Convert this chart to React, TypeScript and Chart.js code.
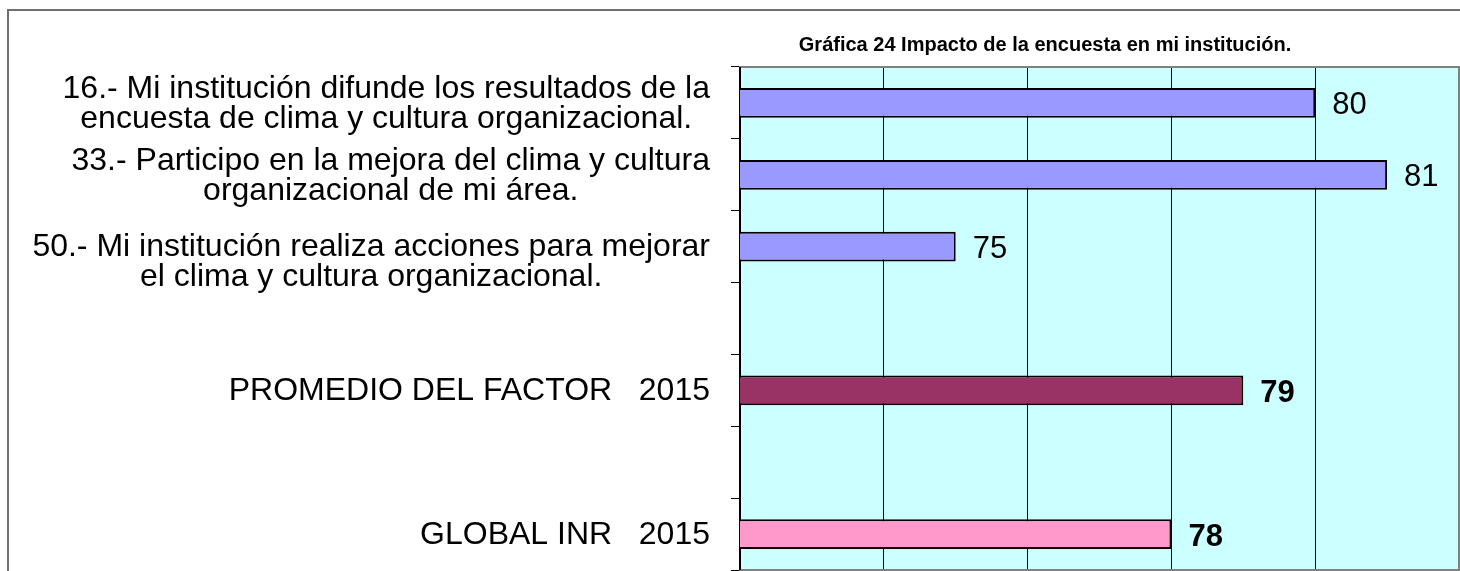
import React, { useEffect, useRef } from "react";
import { Chart, registerables } from "chart.js";

Chart.register(...registerables);

// ---- data ----
const categories: string[][] = [
  ["16.- Mi institución difunde los resultados de la", "encuesta de clima y cultura organizacional."],
  ["33.- Participo en la mejora del clima y cultura", "organizacional de mi área."],
  ["", "50.- Mi institución realiza acciones para mejorar", "el clima y cultura organizacional."],
  [""],
  ["PROMEDIO DEL FACTOR   2015"],
  [""],
  ["GLOBAL INR   2015"],
];
const values: (number | null)[] = [80, 81, 75, null, 79, null, 78];
const barColors = ["#9999FF", "#9999FF", "#9999FF", "rgba(0,0,0,0)", "#993366", "rgba(0,0,0,0)", "#FF99CC"];
const boldValue = [false, false, false, false, true, false, true];
const xMin = 72;
const xMax = 82;
const xStep = 2;
const titleText = "Gráfica 24 Impacto de la encuesta en mi institución.";

const FONT = "'Liberation Sans', Arial, sans-serif";

const decorPlugin = {
  id: "decor",
  beforeDraw(chart: any) {
    const { ctx, chartArea: a } = chart;
    ctx.save();
    ctx.fillStyle = "#ffffff";
    ctx.fillRect(0, 0, chart.width, chart.height);
    // outer frame
    ctx.strokeStyle = "#6f6f6f";
    ctx.lineWidth = 2;
    ctx.beginPath();
    ctx.moveTo(8, chart.height + 2);
    ctx.lineTo(8, 10);
    ctx.lineTo(chart.width + 2, 10);
    ctx.stroke();
    // plot background
    ctx.fillStyle = "#CCFFFF";
    ctx.fillRect(a.left, a.top, a.right - a.left, a.bottom - a.top);
    // title
    ctx.fillStyle = "#000";
    ctx.font = `bold 20px ${FONT}`;
    ctx.textAlign = "center";
    ctx.textBaseline = "alphabetic";
    ctx.fillText(titleText, 1045, 51);
    ctx.restore();
  },
  beforeDatasetsDraw(chart: any) {
    const { ctx, chartArea: a } = chart;
    ctx.save();
    ctx.strokeStyle = "#808080";
    ctx.lineWidth = 2;
    ctx.strokeRect(a.left, a.top, a.right - a.left, a.bottom - a.top);
    ctx.strokeStyle = "#000";
    ctx.beginPath();
    ctx.moveTo(a.left, a.top);
    ctx.lineTo(a.left, a.bottom);
    ctx.stroke();
    // category labels: block right-aligned, lines centered within block
    const yScale = chart.scales.y;
    ctx.fillStyle = "#000";
    ctx.font = `32px ${FONT}`;
    ctx.textAlign = "center";
    ctx.textBaseline = "middle";
    const lineH = 30;
    categories.forEach((lines, i) => {
      const cy = yScale.getPixelForTick(i) + 1;
      const w = Math.max(...lines.map((l) => ctx.measureText(l).width));
      const cx = a.left - 30 - w / 2;
      lines.forEach((l, j) => {
        if (l) ctx.fillText(l, cx, cy + (j - (lines.length - 1) / 2) * lineH);
      });
    });
    ctx.restore();
  },
  afterDatasetsDraw(chart: any) {
    const { ctx } = chart;
    const meta = chart.getDatasetMeta(0);
    ctx.save();
    ctx.fillStyle = "#000";
    ctx.textAlign = "left";
    ctx.textBaseline = "middle";
    meta.data.forEach((bar: any, i: number) => {
      const v = values[i];
      if (v == null) return;
      ctx.font = `${boldValue[i] ? "bold " : ""}31px ${FONT}`;
      ctx.fillText(String(v), bar.x + 17, bar.y + 3);
    });
    ctx.restore();
  },
};

export default function App() {
  const ref = useRef<HTMLCanvasElement>(null);
  useEffect(() => {
    document.body.style.margin = "0";
    const canvas = ref.current!;
    const chart = new Chart(canvas, {
      type: "bar",
      data: {
        labels: categories,
        datasets: [
          {
            data: values as any,
            backgroundColor: barColors,
            borderColor: "#000",
            borderWidth: 2,
            borderSkipped: false,
            categoryPercentage: 1,
            barPercentage: 0.415,
          },
        ],
      },
      options: {
        indexAxis: "y",
        animation: false,
        responsive: false,
        devicePixelRatio: 1,
        layout: { padding: { top: 67, right: 1, bottom: 1, left: 0 } },
        plugins: { legend: { display: false }, tooltip: { enabled: false }, title: { display: false } },
        scales: {
          x: {
            type: "linear",
            min: xMin,
            max: xMax,
            ticks: { display: false, stepSize: xStep },
            grid: {
              drawTicks: false,
              color: (c: any) => (c.tick && (c.tick.value === xMin || c.tick.value === xMax) ? "rgba(0,0,0,0)" : "#000"),
              lineWidth: 1,
            },
            border: { display: false },
            afterFit: (s: any) => {
              s.height = 0;
            },
          },
          y: {
            type: "category",
            offset: true,
            ticks: { display: false },
            grid: {
              offset: true,
              drawOnChartArea: false,
              drawTicks: true,
              tickLength: 9,
              color: "#000",
              lineWidth: 1,
            },
            border: { display: false },
            afterFit: (s: any) => {
              s.width = 740;
            },
          },
        },
      },
      plugins: [decorPlugin],
    });
    return () => chart.destroy();
  }, []);
  return (
    <div style={{ width: 1460, height: 571 }}>
      <canvas ref={ref} width={1460} height={571} style={{ display: "block" }} />
    </div>
  );
}
